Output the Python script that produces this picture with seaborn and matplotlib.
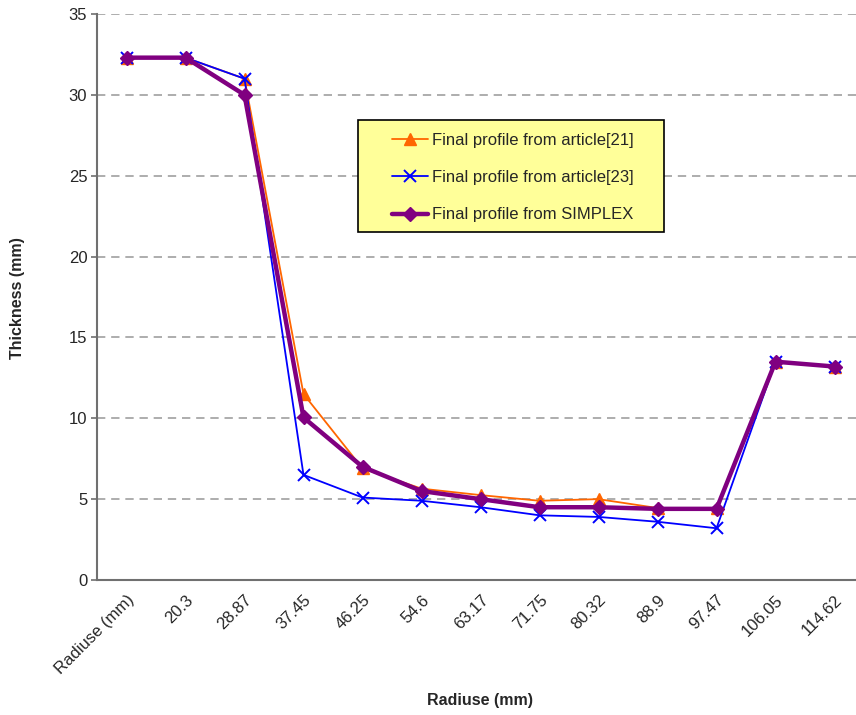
import numpy as np
import pandas as pd
import matplotlib
matplotlib.use("Agg")
import matplotlib.pyplot as plt
from matplotlib.patches import Rectangle
import seaborn as sns

# Data
radius_labels = ["Radiuse (mm)", "20.3", "28.87", "37.45", "46.25", "54.6", "63.17",
                 "71.75", "80.32", "88.9", "97.47", "106.05", "114.62"]
article21 = [32.3, 32.3, 31.0, 11.5, 6.9, 5.65, 5.25, 4.9, 5.0, 4.45, 4.45, 13.5, 13.2]
article23 = [32.3, 32.3, 31.0, 6.5, 5.1, 4.9, 4.5, 4.0, 3.9, 3.6, 3.2, 13.5, 13.2]
simplex = [32.3, 32.3, 30.0, 10.05, 7.0, 5.5, 5.0, 4.5, 4.5, 4.4, 4.4, 13.5, 13.2]

series_names = ["Final profile from article[21]",
                "Final profile from article[23]",
                "Final profile from SIMPLEX"]

sns.set_style("white")
plt.rcParams['font.family'] = ['Liberation Sans', 'DejaVu Sans']

pos = np.arange(len(radius_labels))
df = pd.DataFrame({
    "pos": np.tile(pos, 3),
    "thickness": article21 + article23 + simplex,
    "series": np.repeat(series_names, len(pos)),
})

fig = plt.figure(figsize=(8.56, 7.15), dpi=100)
ax = fig.add_axes([97 / 856, 135 / 715, 767 / 856, 566 / 715])

styles = {
    series_names[0]: dict(color="#FF6600", marker="^", markersize=8, linewidth=1.3,
                          markeredgecolor="#FF6600", markeredgewidth=1),
    series_names[1]: dict(color="#0000FF", marker="x", markersize=9, linewidth=1.3,
                          markeredgecolor="#0000FF", markeredgewidth=1.4),
    series_names[2]: dict(color="#800080", marker="D", markersize=7, linewidth=3.2,
                          markeredgecolor="#800080", markeredgewidth=1),
}
for name in series_names:
    sub = df[df["series"] == name]
    sns.lineplot(data=sub, x="pos", y="thickness", ax=ax, label=name, sort=False,
                 estimator=None, **styles[name])

ax.set_xlim(-0.5, len(radius_labels) - 0.5)
ax.set_ylim(0, 35)
ax.set_yticks(np.arange(0, 36, 5))
ax.set_xticks(pos)
ax.set_xticklabels(radius_labels, rotation=45, ha="right", rotation_mode="anchor",
                   fontsize=12)
ax.set_xticks(np.arange(-0.5, len(radius_labels)), minor=True)
ax.tick_params(axis="x", which="major", length=0, pad=9)
ax.tick_params(axis="x", which="minor", length=4, width=1.2, color="#707070",
               direction="out")
ax.tick_params(axis="y", length=4, width=1.2, color="#707070", direction="out",
               labelsize=12, left=True, pad=3)

ax.yaxis.grid(True, linestyle=(0, (5, 3.5)), color="#A0A0A0", linewidth=1.2)
ax.set_axisbelow(True)
for s in ["top", "right"]:
    ax.spines[s].set_visible(False)
for s in ["left", "bottom"]:
    ax.spines[s].set_color("#707070")
    ax.spines[s].set_linewidth(1.5)

ax.set_xlabel("")
ax.set_ylabel("")
fig.text(480 / 856, 1 - 700 / 715, "Radiuse (mm)", ha="center", va="center",
         fontsize=11.5, fontweight="bold")
fig.text(18 / 856, 1 - 298 / 715, "Thickness (mm)", ha="center", va="center",
         rotation=90, fontsize=11.5, fontweight="bold")

# yellow legend box
box = Rectangle((358 / 856, 1 - 232 / 715), 306 / 856, 112 / 715,
                transform=fig.transFigure, facecolor="#FFFF99",
                edgecolor="black", linewidth=1.2, zorder=5, clip_on=False)
ax.add_artist(box)
leg = ax.legend(loc="upper left", bbox_to_anchor=(392 / 856, 1 - 133 / 715),
                bbox_transform=fig.transFigure, fontsize=12, frameon=False,
                handlelength=2.15, labelspacing=1.33, borderpad=0,
                handletextpad=0.25, borderaxespad=0)
leg.set_zorder(6)

fig.savefig("out.png", dpi=100)
